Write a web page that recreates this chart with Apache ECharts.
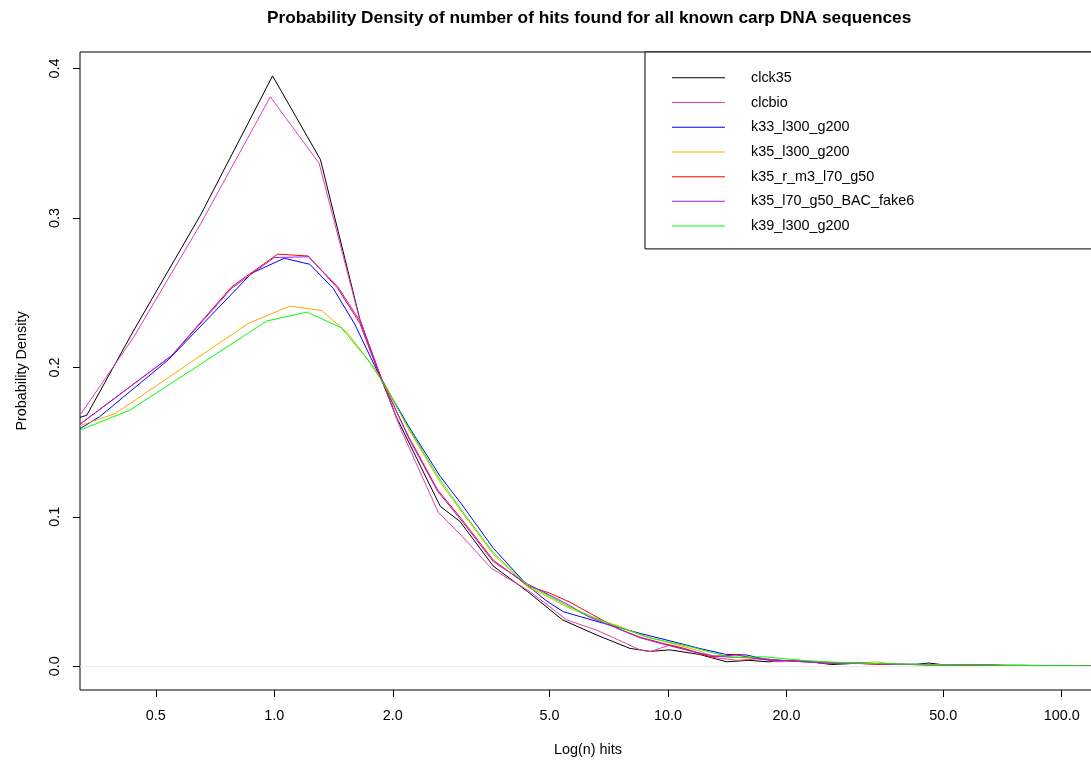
<!DOCTYPE html>
<html>
<head>
<meta charset="utf-8">
<script src="https://cdn.jsdelivr.net/npm/echarts@6/dist/echarts.min.js"></script>
<style>
html,body{margin:0;padding:0;background:#fff;}
#chart{width:1091px;height:762px;}
</style>
</head>
<body>
<div id="chart"></div>
<script>
// ---------------- DATA ----------------
const seriesNames = ["clck35", "clcbio", "k33_l300_g200", "k35_l300_g200", "k35_r_m3_l70_g50", "k35_l70_g50_BAC_fake6", "k39_l300_g200"];

const clck35X = [0.321, 0.334, 0.44, 0.65, 0.99, 1.31, 1.65, 1.86, 2.04, 2.64, 2.96, 3.6, 4.4, 5.4, 6.58, 8.0, 9.0, 10.1, 12.0, 14.1, 16, 18, 20, 23, 26, 30, 34, 38, 43, 46, 50, 56, 63, 71, 80, 90, 101, 112, 123];
const clck35Y = [0.1665, 0.168, 0.225, 0.302, 0.395, 0.339, 0.232, 0.194, 0.167, 0.107, 0.097, 0.067, 0.050, 0.031, 0.021, 0.012, 0.010, 0.011, 0.008, 0.003, 0.004, 0.003, 0.004, 0.003, 0.0012, 0.002, 0.0015, 0.0012, 0.0014, 0.0022, 0.001, 0.0008, 0.0009, 0.0006, 0.0007, 0.0004, 0.0004, 0.0003, 0.0002];

const clcbioX = [0.321, 0.44, 0.65, 0.977, 1.30, 1.64, 1.87, 2.1, 2.61, 3.0, 3.56, 4.4, 5.0, 5.53, 6.58, 7.5, 8.5, 9.0, 10.1, 11.6, 13, 15, 17, 19, 21, 24, 27, 31, 35, 40, 45, 51, 57, 64, 72, 81, 91, 102, 123];
const clcbioY = [0.168, 0.2205, 0.296, 0.381, 0.3365, 0.234, 0.192, 0.158, 0.103, 0.087, 0.0655, 0.051, 0.040, 0.031, 0.0243, 0.0175, 0.0109, 0.0098, 0.0142, 0.0098, 0.006, 0.004, 0.005, 0.003, 0.004, 0.0025, 0.002, 0.0018, 0.0012, 0.0015, 0.001, 0.0011, 0.0007, 0.0008, 0.0006, 0.0005, 0.0005, 0.0003, 0.0002];

const k33X = [0.321, 0.36, 0.538, 0.876, 1.06, 1.23, 1.41, 1.60, 1.855, 2.2, 2.64, 3.0, 3.6, 4.4, 4.9, 5.42, 6.85, 8.5, 10.3, 12, 14, 15.8, 17.5, 19.5, 22, 25, 28, 32, 36, 41, 46, 52, 59, 67, 76, 86, 97, 109, 123];
const k33Y = [0.159, 0.167, 0.205, 0.263, 0.273, 0.269, 0.253, 0.229, 0.1937, 0.16, 0.127, 0.108, 0.079, 0.054, 0.044, 0.0365, 0.0288, 0.022, 0.0165, 0.012, 0.008, 0.0076, 0.005, 0.004, 0.003, 0.0028, 0.0018, 0.0022, 0.0014, 0.0012, 0.001, 0.0011, 0.0008, 0.0006, 0.0006, 0.0004, 0.0004, 0.0003, 0.0002];

const k35X = [0.321, 0.394, 0.859, 1.096, 1.32, 1.54, 1.73, 1.9, 2.2, 2.64, 3.0, 3.6, 4.4, 5.0, 5.5, 6.5, 7.5, 8.5, 10, 11.8, 13, 15, 17, 19, 21, 24, 27, 30, 33.9, 37, 42, 48, 55, 63, 72, 82, 93, 106, 123];
const k35Y = [0.161, 0.169, 0.2294, 0.241, 0.238, 0.2227, 0.205, 0.19, 0.158, 0.123, 0.103, 0.075, 0.053, 0.046, 0.040, 0.032, 0.027, 0.021, 0.016, 0.0109, 0.007, 0.006, 0.005, 0.004, 0.0035, 0.0025, 0.002, 0.0018, 0.003, 0.0015, 0.0012, 0.001, 0.0009, 0.0007, 0.0006, 0.0005, 0.0004, 0.0003, 0.0002];

const k35rX = [0.321, 0.549, 0.78, 1.02, 1.22, 1.45, 1.65, 1.87, 2.2, 2.6, 3.0, 3.6, 4.4, 5.0, 5.63, 6.34, 7.5, 8.5, 9.7, 11.0, 12.8, 14.9, 17, 19, 22, 25, 28, 32, 36, 41, 47, 53, 60, 68, 77, 87, 98, 110, 123];
const k35rY = [0.162, 0.208, 0.254, 0.2758, 0.2745, 0.2528, 0.2294, 0.1915, 0.153, 0.118, 0.098, 0.071, 0.054, 0.049, 0.043, 0.0354, 0.025, 0.0195, 0.0154, 0.012, 0.0064, 0.0076, 0.005, 0.004, 0.0035, 0.002, 0.0025, 0.0018, 0.0015, 0.0012, 0.001, 0.0011, 0.0007, 0.0007, 0.0005, 0.0005, 0.0003, 0.0003, 0.0002];

const k35bacX = [0.321, 0.55, 0.78, 1.0, 1.22, 1.45, 1.65, 1.87, 2.2, 2.6, 3.0, 3.6, 4.4, 5.0, 5.6, 6.3, 7.5, 8.5, 10, 11.5, 13, 14.5, 16, 18.5, 21, 24, 27, 31, 35, 40, 45, 51, 58, 66, 75, 85, 96, 108, 123];
const k35bacY = [0.162, 0.208, 0.253, 0.2735, 0.274, 0.254, 0.231, 0.193, 0.152, 0.117, 0.097, 0.070, 0.055, 0.0477, 0.041, 0.033, 0.025, 0.019, 0.014, 0.010, 0.007, 0.006, 0.006, 0.004, 0.0035, 0.0025, 0.002, 0.0022, 0.0015, 0.0012, 0.0013, 0.0009, 0.0008, 0.0007, 0.0005, 0.0005, 0.0004, 0.0003, 0.0002];

const k39X = [0.321, 0.43, 0.957, 1.21, 1.48, 1.73, 1.87, 2.2, 2.64, 3.0, 3.6, 4.4, 5.0, 5.5, 6.3, 7.25, 9.0, 11.4, 13, 14.5, 16, 17.5, 20, 22, 25, 28, 31, 35, 39, 44, 50, 56, 63, 71, 80, 90, 101, 112, 123];
const k39Y = [0.158, 0.1714, 0.231, 0.237, 0.2265, 0.205, 0.1915, 0.159, 0.1246, 0.104, 0.076, 0.054, 0.047, 0.041, 0.034, 0.0276, 0.019, 0.0131, 0.009, 0.006, 0.006, 0.0064, 0.005, 0.004, 0.003, 0.0025, 0.002, 0.0018, 0.0015, 0.0013, 0.001, 0.0009, 0.0008, 0.0006, 0.0005, 0.0004, 0.0004, 0.0003, 0.0002];

const xTickValues = [0.5, 1, 2, 5, 10, 20, 50, 100];
const yTickValues = [0, 0.1, 0.2, 0.3, 0.4];

// ---------------- STYLE ----------------
const seriesColors = ["#000000", "#e040a8", "#0000ff", "#ffa500", "#ff0000", "#a020f0", "#00ff00"];
const FONT = "'Liberation Sans', Arial, Helvetica, sans-serif";

const xs = [clck35X, clcbioX, k33X, k35X, k35rX, k35bacX, k39X];
const ys = [clck35Y, clcbioY, k33Y, k35Y, k35rY, k35bacY, k39Y];

const series = seriesNames.map((name, i) => {
  const s = {
    name: name,
    type: 'line',
    data: xs[i].map((x, j) => [x, ys[i][j]]),
    symbol: 'none',
    showSymbol: false,
    smooth: false,
    clip: true,
    lineStyle: { color: seriesColors[i], width: 1 },
    itemStyle: { color: seriesColors[i] },
    emphasis: { disabled: true },
    silent: true,
    animation: false
  };
  if (i === 0) {
    s.markLine = {
      silent: true,
      symbol: 'none',
      label: { show: false },
      lineStyle: { color: '#ececec', type: 'solid', width: 1 },
      data: [{ yAxis: 0 }],
      animation: false
    };
  }
  return s;
});

const chart = echarts.init(document.getElementById('chart'), null, { renderer: 'canvas' });
chart.setOption({
  animation: false,
  backgroundColor: '#ffffff',
  title: {
    text: 'Probability Density of number of hits found for all known carp DNA sequences',
    left: 262,
    top: 5,
    textStyle: { fontFamily: FONT, fontSize: 17.3, fontWeight: 'bold', color: '#000' }
  },
  legend: {
    orient: 'vertical',
    left: 645,
    top: 52,
    padding: [13.5, 220, 10.5, 27],
    itemWidth: 53,
    itemHeight: 1,
    icon: 'rect',
    itemGap: 0,
    borderColor: '#000',
    borderWidth: 1,
    borderRadius: 0,
    backgroundColor: '#fff',
    selectedMode: false,
    textStyle: { fontFamily: FONT, fontSize: 14.4, lineHeight: 24.7, color: '#000', padding: [0, 0, 0, 21] },
    data: seriesNames
  },
  grid: {
    left: 80,
    top: 52,
    right: -5,
    bottom: 72,
    show: true,
    borderColor: '#000',
    borderWidth: 1,
    backgroundColor: 'transparent',
    containLabel: false,
    outerBoundsMode: 'none'
  },
  xAxis: {
    type: 'log',
    logBase: 10,
    min: 0.321,
    max: 122.2,
    name: 'Log(n) hits',
    nameLocation: 'middle',
    nameGap: 53,
    nameTextStyle: { fontFamily: FONT, fontSize: 14.4, color: '#000' },
    axisLine: { show: false, onZero: false },
    axisTick: { show: true, length: 7, inside: false, customValues: xTickValues, lineStyle: { color: '#000', width: 1 } },
    axisLabel: { show: true, customValues: xTickValues, margin: 19, fontFamily: FONT, fontSize: 14.4, color: '#000',
      formatter: v => Number(v).toFixed(1) },
    splitLine: { show: false },
    minorTick: { show: false },
    minorSplitLine: { show: false }
  },
  yAxis: {
    type: 'value',
    min: -0.01585,
    max: 0.411,
    name: 'Probability Density',
    nameLocation: 'middle',
    nameGap: 51,
    nameRotate: 90,
    nameTextStyle: { fontFamily: FONT, fontSize: 14.4, color: '#000' },
    axisLine: { show: false, onZero: false },
    axisTick: { show: true, length: 7, inside: false, customValues: yTickValues, lineStyle: { color: '#000', width: 1 } },
    axisLabel: { show: true, customValues: yTickValues, rotate: 90, margin: 18, fontFamily: FONT, fontSize: 14.4, color: '#000',
      formatter: v => Number(v).toFixed(1) },
    splitLine: { show: false }
  },
  series: series
});
</script>
</body>
</html>
